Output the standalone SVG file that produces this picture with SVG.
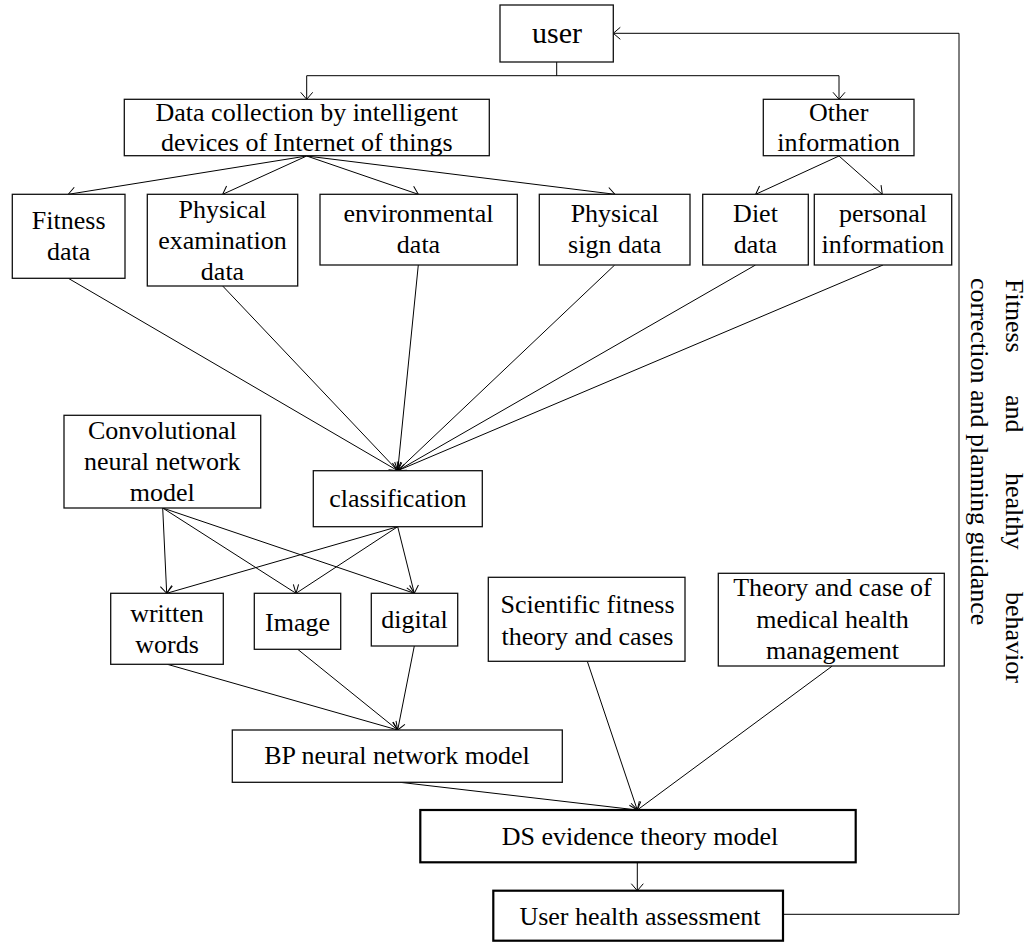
<svg xmlns="http://www.w3.org/2000/svg" width="1029" height="942" viewBox="0 0 1029 942">
<style>
.box{fill:#fff;stroke:#111;stroke-width:1.3}
.bold{fill:#fff;stroke:#000;stroke-width:2.2}
.t{font-family:"Liberation Serif","Times New Roman",serif;font-size:26px;fill:#000;text-anchor:middle}
.c{fill:none;stroke:#000;stroke-width:1}
.rt{font-family:"Liberation Serif","Times New Roman",serif;font-size:26px;fill:#000}
</style>
<defs>
<marker id="arr" markerWidth="20" markerHeight="20" viewBox="-10 -10 20 20" refX="0" refY="0" orient="auto" markerUnits="userSpaceOnUse">
<path d="M-7,-6 L0,0 L-7,6" fill="none" stroke="#000" stroke-width="1"/>
</marker>
</defs>
<rect width="1029" height="942" fill="#fff"/>
<g id="connectors">
<path class="c" d="M556.7,62 V75.7 M306.7,75.7 H839"/>
<path class="c" d="M306.7,75.7 V99.3" marker-end="url(#arr)"/>
<path class="c" d="M839,75.7 V99.3" marker-end="url(#arr)"/>
<path class="c" d="M306.7,156 L68.3,194.3" marker-end="url(#arr)"/>
<path class="c" d="M306.7,156 L222.7,194.3" marker-end="url(#arr)"/>
<path class="c" d="M306.7,156 L418.3,194.3" marker-end="url(#arr)"/>
<path class="c" d="M306.7,156 L615,194.3" marker-end="url(#arr)"/>
<path class="c" d="M839,156 L755.7,194.3" marker-end="url(#arr)"/>
<path class="c" d="M839,156 L882.3,194.3" marker-end="url(#arr)"/>
<path class="c" d="M68.3,278.3 L397.7,470.7" marker-end="url(#arr)"/>
<path class="c" d="M222.7,286 L397.7,470.7" marker-end="url(#arr)"/>
<path class="c" d="M418.3,265 L397.7,470.7" marker-end="url(#arr)"/>
<path class="c" d="M614.7,265 L397.7,470.7" marker-end="url(#arr)"/>
<path class="c" d="M755.5,265 L397.7,470.7" marker-end="url(#arr)"/>
<path class="c" d="M883,265 L397.7,470.7" marker-end="url(#arr)"/>
<path class="c" d="M162.7,508 L166.7,593.3" marker-end="url(#arr)"/>
<path class="c" d="M162.7,508 L296,593.3" marker-end="url(#arr)"/>
<path class="c" d="M162.7,508 L414.3,593.3" marker-end="url(#arr)"/>
<path class="c" d="M397.7,526.7 L166.7,593.3" marker-end="url(#arr)"/>
<path class="c" d="M397.7,526.7 L296,593.3" marker-end="url(#arr)"/>
<path class="c" d="M397.7,526.7 L414.3,593.3" marker-end="url(#arr)"/>
<path class="c" d="M167.3,664.3 L397.7,730" marker-end="url(#arr)"/>
<path class="c" d="M297.7,649.3 L397.7,730" marker-end="url(#arr)"/>
<path class="c" d="M414.3,646 L397.7,730" marker-end="url(#arr)"/>
<path class="c" d="M400,782.3 L637.3,810" marker-end="url(#arr)"/>
<path class="c" d="M587.3,661.3 L637.3,810" marker-end="url(#arr)"/>
<path class="c" d="M832.3,666 L637.3,810" marker-end="url(#arr)"/>
<path class="c" d="M637.3,862.3 V890.7" marker-end="url(#arr)"/>
<path class="c" d="M783,914.3 H959 V33.3 H613.3" marker-end="url(#arr)"/>
</g>
<g id="user"><rect class="box" x="500" y="5" width="113.3" height="57"/><text class="t" x="557" y="43.3" style="font-size:30px">user</text></g>
<g id="data-collection"><rect class="box" x="124.3" y="99.3" width="365" height="56.4"/><text class="t" x="306.8" y="120.7">Data collection by intelligent</text><text class="t" x="306.8" y="150.7">devices of Internet of things</text></g>
<g id="other-information"><rect class="box" x="763.3" y="99.3" width="150.7" height="56.4"/><text class="t" x="838.7" y="120.7">Other</text><text class="t" x="838.7" y="150.7">information</text></g>
<g id="fitness-data"><rect class="box" x="12.3" y="194.3" width="112.7" height="84"/><text class="t" x="68.7" y="229">Fitness</text><text class="t" x="68.7" y="260">data</text></g>
<g id="physical-examination"><rect class="box" x="147.3" y="194.3" width="150.4" height="91.7"/><text class="t" x="222.5" y="218">Physical</text><text class="t" x="222.5" y="249">examination</text><text class="t" x="222.5" y="280">data</text></g>
<g id="environmental-data"><rect class="box" x="320" y="194.3" width="197.3" height="70.7"/><text class="t" x="418.5" y="222">environmental</text><text class="t" x="418.5" y="253">data</text></g>
<g id="physical-sign"><rect class="box" x="539.3" y="194.3" width="150.7" height="70.7"/><text class="t" x="614.7" y="221.7">Physical</text><text class="t" x="614.7" y="253">sign data</text></g>
<g id="diet-data"><rect class="box" x="702.7" y="194.3" width="105.6" height="70.7"/><text class="t" x="755.5" y="221.7">Diet</text><text class="t" x="755.5" y="253">data</text></g>
<g id="personal-information"><rect class="box" x="814.3" y="194.3" width="137.4" height="70.7"/><text class="t" x="883" y="221.7">personal</text><text class="t" x="883" y="253">information</text></g>
<g id="cnn"><rect class="box" x="64" y="415.3" width="196.7" height="92.7"/><text class="t" x="162.3" y="439">Convolutional</text><text class="t" x="162.3" y="470">neural network</text><text class="t" x="162.3" y="501.3">model</text></g>
<g id="classification"><rect class="box" x="313.3" y="470.7" width="169" height="56"/><text class="t" x="397.8" y="506.7">classification</text></g>
<g id="written-words"><rect class="box" x="110.7" y="593.3" width="112.6" height="71"/><text class="t" x="167" y="621.7">written</text><text class="t" x="167" y="653.3">words</text></g>
<g id="image"><rect class="box" x="254.3" y="593.3" width="86.4" height="56"/><text class="t" x="297.5" y="630.7">Image</text></g>
<g id="digital"><rect class="box" x="371.3" y="593.3" width="86.4" height="52.7"/><text class="t" x="414.5" y="628.3">digital</text></g>
<g id="scientific-fitness"><rect class="box" x="488.3" y="577.3" width="196.7" height="84"/><text class="t" x="587.5" y="613.3">Scientific fitness</text><text class="t" x="587.5" y="645">theory and cases</text></g>
<g id="medical-theory"><rect class="box" x="718.3" y="573.3" width="226" height="92.7"/><text class="t" x="832.5" y="596">Theory and case of</text><text class="t" x="832.5" y="628.3">medical health</text><text class="t" x="832.5" y="659.3">management</text></g>
<g id="bp-model"><rect class="box" x="232.3" y="730" width="330" height="52.3"/><text class="t" x="397" y="764">BP neural network model</text></g>
<g id="ds-model"><rect class="bold" x="420.3" y="810" width="435.4" height="52.3"/><text class="t" x="640" y="845">DS evidence theory model</text></g>
<g id="user-health"><rect class="bold" x="493.3" y="890.7" width="289.7" height="50"/><text class="t" x="640" y="925">User health assessment</text></g>
<g id="feedback-label">
<text class="rt" transform="translate(1006,279) rotate(90)"><tspan x="0" y="0">Fitness</tspan><tspan x="116" y="0">and</tspan><tspan x="194" y="0">healthy</tspan><tspan x="313" y="0">behavior</tspan></text>
<text class="rt" transform="translate(971,278) rotate(90)">correction and planning guidance</text>
</g>
</svg>
